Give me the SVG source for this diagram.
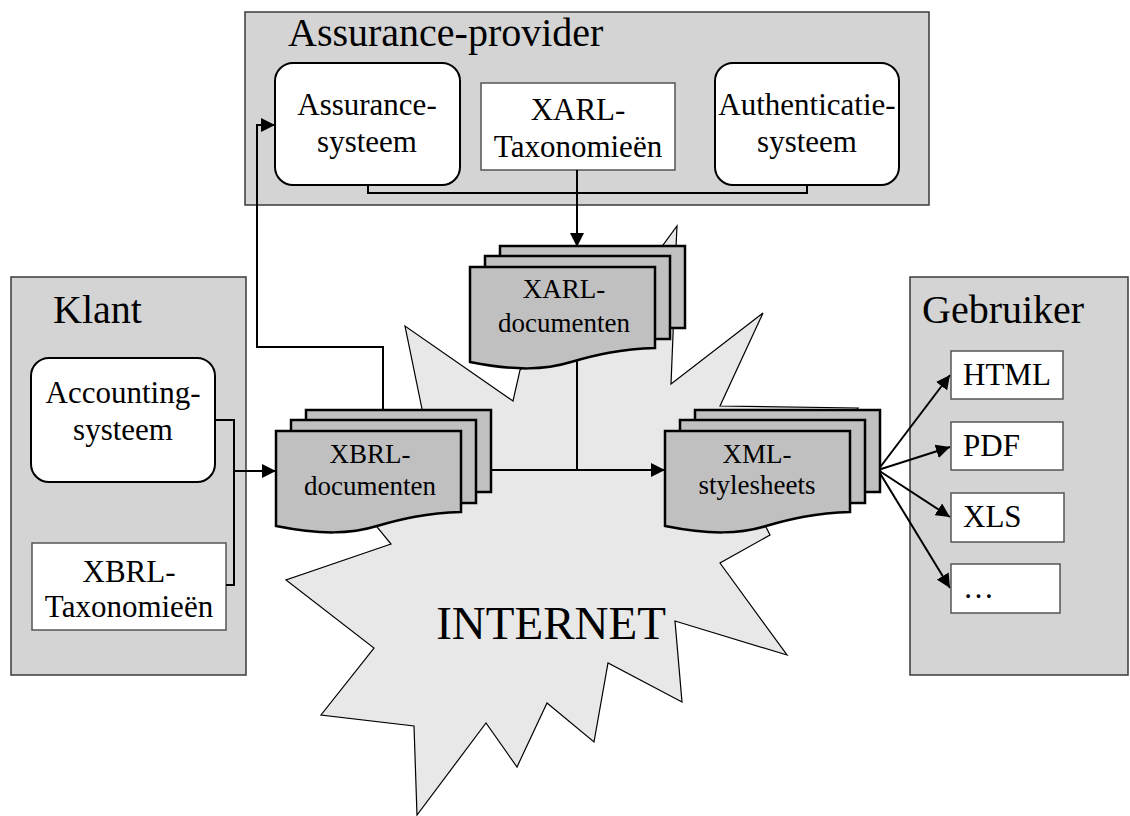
<svg xmlns="http://www.w3.org/2000/svg" width="1130" height="816" viewBox="0 0 1130 816">
<style>
text{font-family:"Liberation Serif","Times New Roman",serif;fill:#000}
.title{font-size:40px}
.lbl{font-size:31px;text-anchor:middle}
.lbll{font-size:31px}
.doc{font-size:27px;text-anchor:middle}
.outer{fill:#d4d4d4;stroke:#3a3a3a;stroke-width:1.5}
.rbox{fill:#fff;stroke:#000;stroke-width:2}
.sbox{fill:#fff;stroke:#555;stroke-width:1.5}
.sheet{fill:#c0c0c0;stroke:#000;stroke-width:2.5}
.conn{fill:none;stroke:#000;stroke-width:2}
</style>
<defs>
<marker id="arr" viewBox="0 -7 14 14" refX="14" refY="0" markerWidth="14" markerHeight="14" markerUnits="userSpaceOnUse" orient="auto">
<path d="M0,-7 L14,0 L0,7 Z" fill="#000"/>
</marker>
<g id="stack">
<rect class="sheet" x="30" y="-21" width="185" height="82"/>
<rect class="sheet" x="15" y="-11" width="185" height="83"/>
<path class="sheet" d="M0,0 H185 V81 C150,82 125,88 101,95 C75,103 45,104 0,95 Z"/>
</g>
</defs>

<g id="assurance-provider">
<rect class="outer" x="245" y="12" width="684" height="193"/>
<text class="title" x="288" y="46">Assurance-provider</text>
</g>

<g id="klant">
<rect class="outer" x="11" y="277" width="235" height="398"/>
<text class="title" x="53" y="323">Klant</text>
</g>

<g id="gebruiker">
<rect class="outer" x="910" y="277" width="218" height="398"/>
<text class="title" x="922" y="323">Gebruiker</text>
</g>

<g id="internet">
<polygon points="677,226 676,247 673,335 671,384 763,313 720,406 858,408 765,525 770,535 720,563 787,655 675,621 682,702 608,663 594,742 547,703 517,767 486,723 417,815 414,726 321,715 374,648 286,580 391,544 377,527 422,409 405,326 513,401 520,370 663,245" fill="#e8e8e8" stroke="#000" stroke-width="1.2" stroke-linejoin="miter"/>
<text x="551" y="639" style="font-size:47px" text-anchor="middle">INTERNET</text>
</g>

<g id="assurance-systeem">
<rect class="rbox" x="275" y="63" width="185" height="122" rx="18"/>
<text class="lbl" x="367" y="115">Assurance-</text>
<text class="lbl" x="367" y="152">systeem</text>
</g>

<g id="xarl-taxonomieen">
<rect class="sbox" x="481" y="83" width="194" height="87"/>
<text class="lbl" x="578" y="120">XARL-</text>
<text class="lbl" x="578" y="157">Taxonomieën</text>
</g>

<g id="authenticatie-systeem">
<rect class="rbox" x="715" y="63" width="184" height="122" rx="18"/>
<text class="lbl" x="807" y="115">Authenticatie-</text>
<text class="lbl" x="807" y="152">systeem</text>
</g>

<g id="accounting-systeem">
<rect class="rbox" x="31" y="358" width="184" height="124" rx="18"/>
<text class="lbl" x="123" y="403">Accounting-</text>
<text class="lbl" x="123" y="440">systeem</text>
</g>

<g id="xbrl-taxonomieen">
<rect class="sbox" x="32" y="543" width="194" height="87"/>
<text class="lbl" x="129" y="582">XBRL-</text>
<text class="lbl" x="129" y="617">Taxonomieën</text>
</g>

<g id="connectors">
<path class="conn" d="M368,185 V193 H807 V185"/>
<path class="conn" d="M577,170 V247" marker-end="url(#arr)"/>
<path class="conn" d="M577,360 V470"/>
<path class="conn" d="M491,470 H665" marker-end="url(#arr)"/>
<path class="conn" d="M383,410 V347 H257 V125 H275" marker-end="url(#arr)"/>
<path class="conn" d="M215,420 H234 V585 H226"/>
<path class="conn" d="M234,471 H276" marker-end="url(#arr)"/>
<path class="conn" d="M878,470 L950,375" marker-end="url(#arr)"/>
<path class="conn" d="M878,470 L950,447" marker-end="url(#arr)"/>
<path class="conn" d="M878,470 L950,517" marker-end="url(#arr)"/>
<path class="conn" d="M878,470 L950,588" marker-end="url(#arr)"/>
</g>

<g id="xarl-documenten">
<use href="#stack" transform="translate(470,267)"/>
<text class="doc" x="564" y="298">XARL-</text>
<text class="doc" x="564" y="332">documenten</text>
</g>

<g id="xbrl-documenten">
<use href="#stack" transform="translate(276,431)"/>
<text class="doc" x="370" y="463">XBRL-</text>
<text class="doc" x="370" y="495">documenten</text>
</g>

<g id="xml-stylesheets">
<use href="#stack" transform="translate(665,431)"/>
<text class="doc" x="757" y="463">XML-</text>
<text class="doc" x="757" y="494">stylesheets</text>
</g>

<g id="html">
<rect class="sbox" x="951" y="351" width="112" height="48"/>
<text class="lbll" x="963" y="385">HTML</text>
</g>
<g id="pdf">
<rect class="sbox" x="951" y="422" width="112" height="48"/>
<text class="lbll" x="963" y="456">PDF</text>
</g>
<g id="xls">
<rect class="sbox" x="951" y="493" width="113" height="49"/>
<text class="lbll" x="963" y="527">XLS</text>
</g>
<g id="more">
<rect class="sbox" x="951" y="564" width="109" height="49"/>
<text class="lbll" x="963" y="598">…</text>
</g>
</svg>
